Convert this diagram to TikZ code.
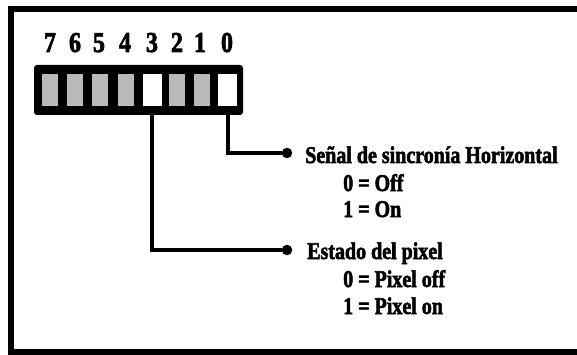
\documentclass[tikz,border=0pt]{standalone}
\usepackage{fontspec}
\setmainfont{Liberation Serif}[BoldFeatures={FakeBold=2.5}]
\begin{document}
\begin{tikzpicture}[x=1pt,y=-1pt,
  cell/.style={minimum height=32pt, inner sep=0pt, draw=none},
  offcell/.style={cell, minimum width=16pt, fill=gray!55},
  oncell/.style={cell, minimum width=19pt, fill=white},
  bitnum/.style={font=\fontsize{24}{24}\selectfont\bfseries, anchor=base, inner sep=0pt},
  lbl/.style={font=\fontsize{20}{20}\selectfont\bfseries, anchor=base west, inner sep=0pt},
  wire/.style={line width=4pt},
  dotn/.style={circle, fill=black, minimum size=10.5pt, inner sep=0pt}]
\clip (0,0) rectangle (577,355);
\fill[white] (0,0) rectangle (577,355);
\draw[line width=6.5pt] (11,9) rectangle (600,352);
% register
\node[fill=black, rounded corners=3pt, minimum width=209pt, minimum height=50pt, inner sep=0pt] (reg) at (138.5,90) {};
\node[offcell] (c7) at (50,90) {};
\node[offcell] (c6) at (75,90) {};
\node[offcell] (c5) at (100,90) {};
\node[offcell] (c4) at (125.5,90) {};
\node[oncell]  (c3) at (152,90) {};
\node[offcell] (c2) at (177,90) {};
\node[offcell] (c1) at (201.5,90) {};
\node[oncell]  (c0) at (227.5,90) {};
% bit numbers
\node[bitnum] (d7) at (50,52) {\scalebox{1}[1.2]{7}};
\node[bitnum] (d6) at (75,52) {\scalebox{1}[1.2]{6}};
\node[bitnum] (d5) at (99,52) {\scalebox{1}[1.2]{5}};
\node[bitnum] (d4) at (125,52) {\scalebox{1}[1.2]{4}};
\node[bitnum] (d3) at (152,52) {\scalebox{1}[1.2]{3}};
\node[bitnum] (d2) at (177,52) {\scalebox{1}[1.2]{2}};
\node[bitnum] (d1) at (200,52) {\scalebox{1}[1.2]{1}};
\node[bitnum] (d0) at (227,52) {\scalebox{1}[1.2]{0}};
% dots
\node[dotn] (dotA) at (287,153) {};
\node[dotn] (dotB) at (287,250) {};
\draw[wire] (c0.south) |- (dotA);
\draw[wire] (c3.south) |- (dotB);
% labels
\node[lbl] (t1) at (305,163) {\scalebox{1}[1.2]{Señal de sincronía Horizontal}};
\node[lbl] (t2) at (343,191) {\scalebox{1}[1.2]{0 = Off}};
\node[lbl] (t3) at (343,217) {\scalebox{1}[1.2]{1 = On}};
\node[lbl] (t4) at (307,259) {\scalebox{1}[1.2]{Estado del pixel}};
\node[lbl] (t5) at (343,287) {\scalebox{1}[1.2]{0 = Pixel off}};
\node[lbl] (t6) at (343,314) {\scalebox{1}[1.2]{1 = Pixel on}};
\end{tikzpicture}
\end{document}
